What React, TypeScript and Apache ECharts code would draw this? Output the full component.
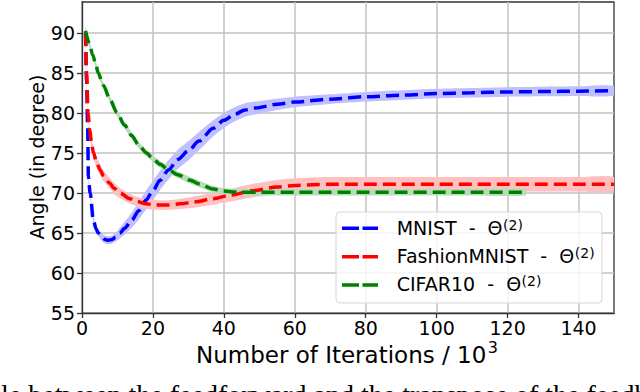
import React, { useEffect, useRef } from 'react';
import * as echarts from 'echarts';

// ---- data ----
const mnistX = [1, 1.3, 1.6, 1.8, 2.3, 3.2, 4, 4.6, 5.5, 6.5, 7.4, 8.5, 9.5, 10.7, 12, 14, 16, 18, 20, 22, 24.4, 27, 30, 33, 37, 40, 43, 46, 49, 55, 60, 70, 80, 90, 100, 110, 120, 130, 140, 150];
const mnistY = [90, 84, 78, 72, 70, 66.6, 65.5, 65, 64.5, 64.2, 64.1, 64.2, 64.5, 65, 65.6, 66.6, 67.8, 69.1, 70.3, 71.6, 72.9, 74.2, 75.3, 76.5, 78.1, 79.1, 79.85, 80.4, 80.65, 81.1, 81.4, 81.75, 82.05, 82.25, 82.45, 82.55, 82.65, 82.7, 82.75, 82.8];
const mnistStd = [0.4, 0.4, 0.4, 0.4, 0.4, 0.4, 0.4, 0.4, 0.45, 0.5, 0.5, 0.5, 0.55, 0.65, 0.8, 0.95, 1.1, 1.2, 1.2, 1.2, 1.2, 1.2, 1.2, 1.15, 1.0, 0.95, 0.9, 0.85, 0.8, 0.7, 0.65, 0.6, 0.6, 0.6, 0.6, 0.6, 0.6, 0.6, 0.6, 0.6];

const fashionX = [1, 1.3, 1.7, 2.2, 2.7, 3.2, 4, 5.1, 6, 7.9, 9, 10.7, 13.5, 15.5, 18, 21, 24, 27.6, 32, 37, 42, 48, 55, 60, 65, 70, 80, 90, 100, 110, 120, 130, 140, 150];
const fashionY = [90, 85, 80, 77.8, 76.2, 75.1, 74, 72.9, 72.2, 71.2, 70.6, 70, 69.3, 68.95, 68.65, 68.5, 68.5, 68.65, 68.9, 69.3, 69.75, 70.3, 70.75, 70.95, 71.05, 71.1, 71.1, 71.1, 71.1, 71.1, 71.1, 71.1, 71.1, 71.1];
const fashionStd = [0.3, 0.3, 0.4, 0.5, 0.6, 0.65, 0.7, 0.7, 0.7, 0.7, 0.7, 0.65, 0.6, 0.6, 0.6, 0.6, 0.6, 0.65, 0.7, 0.75, 0.8, 0.85, 0.9, 0.9, 0.9, 0.9, 0.9, 0.9, 0.9, 0.9, 0.9, 0.9, 0.9, 0.9];

const cifarX = [1, 2, 3, 4, 4.5, 6, 8, 9.8, 12, 14, 16, 18.2, 20, 22, 24.4, 27, 30.5, 33, 37, 40, 42.6, 46, 50, 60, 70, 80, 90, 100, 110, 125];
const cifarY = [90.3, 88.8, 87.3, 85.9, 85.1, 83.5, 81.6, 80.1, 78.5, 77.2, 76.0, 75.0, 74.3, 73.6, 72.9, 72.3, 71.6, 71.15, 70.5, 70.25, 70.15, 70.1, 70.1, 70.1, 70.1, 70.1, 70.1, 70.1, 70.1, 70.1];
const cifarStd = [0.4, 0.4, 0.4, 0.4, 0.4, 0.4, 0.4, 0.4, 0.4, 0.4, 0.4, 0.4, 0.4, 0.4, 0.4, 0.4, 0.4, 0.4, 0.4, 0.4, 0.4, 0.4, 0.4, 0.4, 0.4, 0.4, 0.4, 0.4, 0.4, 0.4];

const xTicks = [0, 20, 40, 60, 80, 100, 120, 140];
const yTicks = [55, 60, 65, 70, 75, 80, 85, 90];

const legendNames = ['MNIST  -  Θ', 'FashionMNIST  -  Θ', 'CIFAR10  -  Θ'];
const legendSup = '(2)';
const xTitle = 'Number of Iterations / 10';
const xTitleSup = '3';
const yTitle = 'Angle (in degree)';
const caption = 'le between the feedforward and the transpose of the feedback weights';

const pairs = (xs: number[], ys: number[]) => xs.map((x, i) => [x, ys[i]]);

function measure(text: string, font: string): number {
  const c = document.createElement('canvas').getContext('2d');
  if (!c) return text.length * 10;
  c.font = font;
  return c.measureText(text).width;
}

export default function App() {
  const ref = useRef<HTMLDivElement>(null);
  useEffect(() => {
    if (!ref.current) return;
    const chart = echarts.init(ref.current, null, { renderer: 'svg' });

    const sets = [
      { x: mnistX, y: mnistY, s: mnistStd, color: '#0000ff', band: '#c0c0ff' },
      { x: fashionX, y: fashionY, s: fashionStd, color: '#ff0000', band: '#ffc0c0' },
      { x: cifarX, y: cifarY, s: cifarStd, color: '#008000', band: '#b8dbb8' },
    ];

    const bandSeries = sets.map((s) => ({
      type: 'custom',
      silent: true,
      clip: true,
      z: 2,
      data: [[s.x[0], s.y[0]]],
      renderItem: (_params: any, api: any) => {
        const up = s.x.map((x, i) => api.coord([x, s.y[i] + s.s[i]]));
        const lo = s.x.map((x, i) => api.coord([x, s.y[i] - s.s[i]])).reverse();
        return {
          type: 'polygon',
          shape: { points: up.concat(lo), smooth: 0.25 },
          style: { fill: s.band },
        };
      },
    }));
    const lineSeries = sets.map((s) => ({
      type: 'line',
      data: pairs(s.x, s.y),
      showSymbol: false,
      symbol: 'none',
      smooth: 0.3,
      smoothMonotone: 'x',
      silent: true,
      z: 3,
      lineStyle: { color: s.color, width: 3.5, type: [13, 6], cap: 'butt' },
    }));

    const tickFont = 'DejaVu Sans';
    const legFont = `19px "DejaVu Sans"`;
    const rowsY = [227.5, 255.9, 284.3];
    const handleY = [228.3, 256.7, 285];
    const legendGraphics: any[] = [
      {
        type: 'rect',
        shape: { x: 336, y: 212, width: 266, height: 91, r: 4 },
        style: { fill: 'rgba(255,255,255,0.8)', stroke: '#d6d6d6', lineWidth: 1 },
        z: 100,
      },
    ];
    legendNames.forEach((name, i) => {
      legendGraphics.push({
        type: 'line',
        shape: { x1: 342, y1: handleY[i], x2: 378, y2: handleY[i] },
        style: { stroke: sets[i].color, lineWidth: 3.5, lineDash: [17, 3.5] },
        z: 101,
      });
      const w = measure(name, legFont);
      legendGraphics.push({
        type: 'text',
        x: 396.7,
        y: rowsY[i],
        style: { text: name, fontSize: 19, fontFamily: tickFont, fill: '#000', align: 'left', verticalAlign: 'middle' },
        z: 101,
      });
      legendGraphics.push({
        type: 'text',
        x: 396.7 + w + 0.5,
        y: rowsY[i] - 3,
        style: { text: legendSup, fontSize: 14, fontFamily: tickFont, fill: '#000', align: 'left', verticalAlign: 'middle' },
        z: 101,
      });
    });

    const xtW = measure(xTitle, `23px "DejaVu Sans"`);
    const xsW = measure(xTitleSup, `16px "DejaVu Sans"`);
    const xtLeft = 347 - (xtW + 1.5 + xsW) / 2;

    const option = {
      animation: false,
      grid: { left: 82, right: 26, top: 2, bottom: 79, show: true, borderColor: '#333', borderWidth: 1.3, backgroundColor: '#fff' },
      xAxis: {
        type: 'value', min: 0, max: 150, interval: 20,
        axisLine: { show: true, onZero: false, lineStyle: { color: '#333', width: 1.3 } },
        axisTick: { show: true, length: 5, customValues: xTicks, lineStyle: { color: '#333', width: 1.3 } },
        axisLabel: { color: '#000', fontSize: 19, fontFamily: tickFont, margin: 5, customValues: xTicks },
        splitLine: { show: true, lineStyle: { color: '#c2c2c2', width: 1.5 } },
      },
      yAxis: {
        type: 'value', min: 55, max: 93.9, interval: 5,
        axisLine: { show: true, onZero: false, lineStyle: { color: '#333', width: 1.3 } },
        axisTick: { show: true, length: 5, customValues: yTicks, lineStyle: { color: '#333', width: 1.3 } },
        axisLabel: { color: '#000', fontSize: 19, fontFamily: tickFont, margin: 7, customValues: yTicks },
        splitLine: { show: true, lineStyle: { color: '#c2c2c2', width: 1.5 } },
      },
      series: [...bandSeries, ...lineSeries],
      graphic: [
        ...legendGraphics,
        {
          type: 'text', x: xtLeft, y: 354.5,
          style: { text: xTitle, fontSize: 23, fontFamily: tickFont, fill: '#000', align: 'left', verticalAlign: 'middle' },
        },
        {
          type: 'text', x: xtLeft + xtW + 1.5, y: 347,
          style: { text: xTitleSup, fontSize: 16, fontFamily: tickFont, fill: '#000', align: 'left', verticalAlign: 'middle' },
        },
        {
          type: 'text', x: 37, y: 157, rotation: Math.PI / 2,
          style: { text: yTitle, fontSize: 19, fontFamily: tickFont, fill: '#000', align: 'center', verticalAlign: 'middle' },
        },
        {
          type: 'text', x: 1, y: 394,
          style: { text: caption, fontSize: 28, fontFamily: 'Liberation Serif', fill: '#000', align: 'left', verticalAlign: 'middle' },
        },
      ],
    };
    chart.setOption(option as any);
    return () => chart.dispose();
  }, []);
  return <div ref={ref} style={{ width: 640, height: 392, position: 'absolute', left: 0, top: 0, background: '#fff' }} />;
}
